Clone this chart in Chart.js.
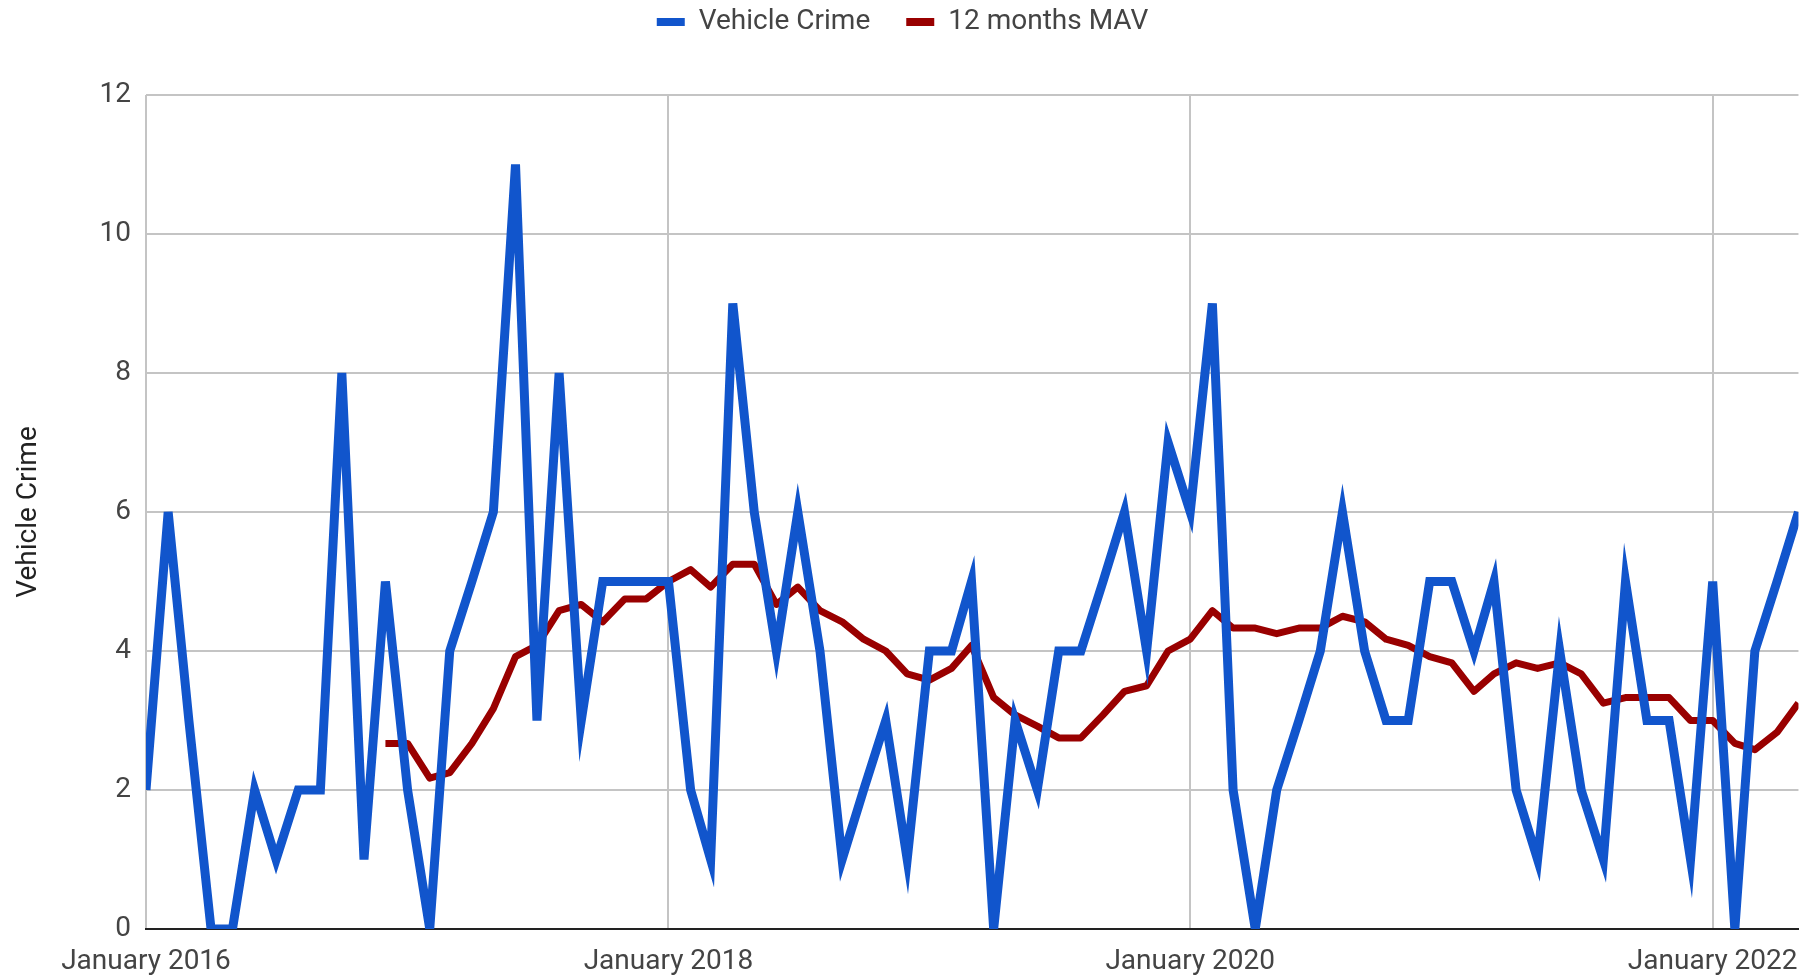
<!DOCTYPE html>
<html>
<head>
<meta charset="utf-8">
<script src="https://cdn.jsdelivr.net/npm/chart.js@4.4.1/dist/chart.umd.min.js"></script>
<style>
  html, body { margin: 0; padding: 0; background: #ffffff; }
  #wrap { width: 1814px; height: 978px; position: relative; }
</style>
</head>
<body>
<div id="wrap"><canvas id="c"></canvas></div>
<script>
// ---- categories: months January 2016 – May 2022 (first day of each month) ----
const MONTH_NAMES = ['January','February','March','April','May','June','July','August','September','October','November','December'];
const FIRST_YEAR = 2016;
const MONTH_COUNT = 77;
const DAY_MS = 86400000;
const ORIGIN = Date.UTC(FIRST_YEAR, 0, 1);
const categories = [];      // month names
const monthDays = [];       // day offset of each month from January 2016 (date position)
for (let i = 0; i < MONTH_COUNT; i++) {
  const y = FIRST_YEAR + Math.floor(i / 12), m = i % 12;
  categories.push(MONTH_NAMES[m] + ' ' + y);
  monthDays.push(Math.round((Date.UTC(y, m, 1) - ORIGIN) / DAY_MS));
}

// ---- tick labels shown on the x axis ----
const xTickLabels = ['January 2016', 'January 2018', 'January 2020', 'January 2022'];

// ---- series: Vehicle Crime (monthly counts) ----
const vehicleCrime = [
  2, 6, 3, 0, 0, 2, 1, 2, 2, 8, 1, 5,      // 2016
  2, 0, 4, 5, 6, 11, 3, 8, 3, 5, 5, 5,     // 2017
  5, 2, 1, 9, 6, 4, 6, 4, 1, 2, 3, 1,      // 2018
  4, 4, 5, 0, 3, 2, 4, 4, 5, 6, 4, 7,      // 2019
  6, 9, 2, 0, 2, 3, 4, 6, 4, 3, 3, 5,      // 2020
  5, 4, 5, 2, 1, 4, 2, 1, 5, 3, 3, 1,      // 2021
  5, 0, 4, 5, 6                            // 2022
];

// ---- series: 12 months MAV ----
const mav12 = [
  null, null, null, null, null, null, null, null, null, null, null, 2.67,
  2.67, 2.17, 2.25, 2.67, 3.17, 3.92, 4.08, 4.58, 4.67, 4.42, 4.75, 4.75,
  5.00, 5.17, 4.92, 5.25, 5.25, 4.67, 4.92, 4.58, 4.42, 4.17, 4.00, 3.67,
  3.58, 3.75, 4.08, 3.33, 3.08, 2.92, 2.75, 2.75, 3.08, 3.42, 3.50, 4.00,
  4.17, 4.58, 4.33, 4.33, 4.25, 4.33, 4.33, 4.50, 4.42, 4.17, 4.08, 3.92,
  3.83, 3.42, 3.67, 3.83, 3.75, 3.83, 3.67, 3.25, 3.33, 3.33, 3.33, 3.00,
  3.00, 2.67, 2.58, 2.83, 3.25
];

// ---- y tick values ----
const yTicks = [0, 2, 4, 6, 8, 10, 12];

const BLUE = '#1155cc';
const RED = '#990000';
const FONT = 'Roboto, "Noto Sans", Arial, sans-serif';

const xTickValues = xTickLabels.map(l => monthDays[categories.indexOf(l)]);
const toPoints = (arr) => arr.map((v, i) => ({ x: monthDays[i], y: v }));

const legendSpacer = {
  id: 'legendSpacer',
  beforeInit(chart) {
    const origFit = chart.legend.fit;
    chart.legend.fit = function () {
      origFit.call(this);
      this.height += 49;
    };
  }
};

new Chart(document.getElementById('c'), {
  type: 'line',
  data: {
    datasets: [
      {
        label: 'Vehicle Crime',
        data: toPoints(vehicleCrime),
        borderColor: BLUE,
        backgroundColor: BLUE,
        borderWidth: 9,
        pointRadius: 0,
        pointHoverRadius: 0,
        tension: 0,
        borderJoinStyle: 'miter',
        fill: false
      },
      {
        label: '12 months MAV',
        data: toPoints(mav12),
        borderColor: RED,
        backgroundColor: RED,
        borderWidth: 7,
        pointRadius: 0,
        pointHoverRadius: 0,
        tension: 0,
        borderJoinStyle: 'round',
        fill: false,
        spanGaps: false
      }
    ]
  },
  options: {
    responsive: true,
    maintainAspectRatio: false,
    animation: false,
    devicePixelRatio: 1,
    layout: { padding: { top: -28, right: 9, left: 0, bottom: 0 } },
    plugins: {
      legend: {
        display: true,
        position: 'top',
        align: 'center',
        labels: {
          font: { family: FONT, size: 28 },
          color: '#444444',
          boxWidth: 28,
          boxHeight: 8,
          padding: 36,
          generateLabels(chart) {
            const items = Chart.defaults.plugins.legend.labels.generateLabels(chart);
            items.forEach(it => { it.lineWidth = 0; it.fillStyle = it.strokeStyle; });
            return items;
          }
        }
      },
      tooltip: { enabled: false }
    },
    scales: {
      x: {
        type: 'linear',
        min: monthDays[0],
        max: monthDays[monthDays.length - 1],
        afterFit(scale) { scale.height = 49; },
        afterBuildTicks(scale) { scale.ticks = xTickValues.map(v => ({ value: v })); },
        grid: {
          display: true,
          drawTicks: false,
          color: '#c4c4c4',
          lineWidth: 2
        },
        border: { display: true, color: '#222222', width: 2 },
        ticks: {
          autoSkip: false,
          maxRotation: 0,
          minRotation: 0,
          padding: 16,
          color: '#444444',
          font: { family: FONT, size: 28 },
          callback(value) {
            const idx = xTickValues.indexOf(value);
            return idx >= 0 ? xTickLabels[idx] : null;
          }
        }
      },
      y: {
        min: yTicks[0],
        max: yTicks[yTicks.length - 1],
        afterFit(scale) { scale.width = 146; },
        afterBuildTicks(scale) { scale.ticks = yTicks.map(v => ({ value: v })); },
        grid: {
          drawTicks: false,
          color: (ctx) => (ctx.tick && ctx.tick.value === 0) ? 'rgba(0,0,0,0)' : '#c4c4c4',
          lineWidth: 2
        },
        border: { display: false },
        ticks: {
          padding: 15,
          color: '#444444',
          font: { family: FONT, size: 28 }
        },
        title: {
          display: true,
          text: 'Vehicle Crime',
          color: '#222222',
          font: { family: FONT, size: 28 },
          padding: { top: 12, bottom: 0 }
        }
      }
    }
  },
  plugins: [legendSpacer]
});
</script>
</body>
</html>
